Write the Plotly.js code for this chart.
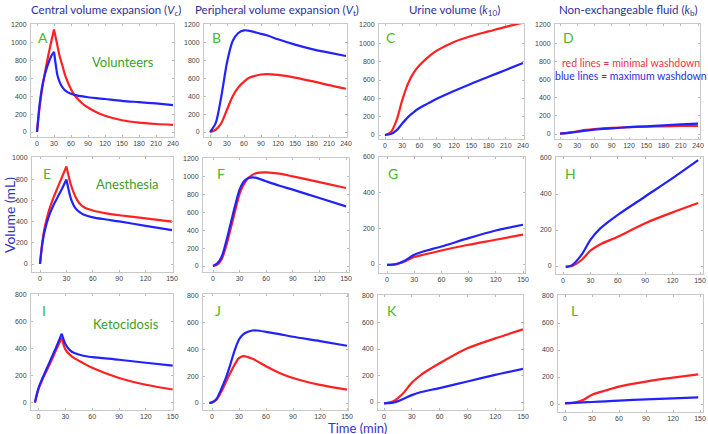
<!DOCTYPE html>
<html><head><meta charset="utf-8">
<script src="https://cdn.plot.ly/plotly-3.0.1.min.js"></script>
<style>html,body{margin:0;padding:0;background:#fff}#chart{width:708px;height:434px}</style>
</head><body><div id="chart"></div>
<script>
// ---------- DATA ----------
// Row 1: Volunteers (0-240 min)
const tA_red  = [0,5,10,15,20,25,30,35,40,45,50,60,65,70,80,90,105,120,150,180,210,240];
const A_red   = [0,300,520,700,860,1010,1150,1000,850,740,630,480,425,385,320,275,222,182,132,105,90,80];
const tA_blue = [0,5,10,15,20,25,30,33,36,40,45,50,60,70,90,120,150,180,210,240];
const A_blue  = [0,330,540,670,770,850,900,760,640,560,500,465,428,410,390,370,350,335,320,302];

const tB      = [0,10,20,30,40,50,60,70,90,100,120,150,180,210,240];
const B_blue  = [0,100,400,780,1020,1110,1140,1135,1100,1085,1040,980,930,890,852];
const B_red   = [0,25,100,250,400,500,565,610,645,650,640,610,570,525,485];

const tC      = [0,10,20,30,40,50,60,75,90,120,150,180,210,240];
const C_red   = [0,30,160,380,560,680,760,850,920,1015,1080,1130,1180,1225];
const C_blue  = [0,10,50,125,195,250,295,345,395,480,560,635,710,785];

const tD      = [0,15,30,45,60,90,120,150,180,210,240];
const D_red   = [5,15,30,45,55,68,75,80,85,88,90];
const D_blue  = [5,12,25,38,48,62,75,85,95,105,115];

// Row 2: Anesthesia (0-150 min)
const tE      = [0,2.5,5,10,15,20,25,30,32,35,40,45,50,60,75,90,120,150];
const E_red   = [0,200,330,500,620,720,820,920,850,750,640,570,535,505,478,460,430,400];
const E_blue  = [0,180,300,450,550,630,710,797,720,620,530,490,465,440,420,402,360,320];

const tF      = [0,5,10,15,20,25,30,35,40,45,50,60,75,90,120,150];
const F_blue  = [0,30,110,280,480,680,856,950,987,994,985,950,900,856,762,669];
const F_red   = [0,15,80,230,420,620,810,920,990,1025,1045,1050,1035,1005,940,875];

const tG      = [0,10,20,30,40,60,90,120,150];
const G_blue  = [-5,0,20,52,70,98,145,188,220];
const G_red   = [-5,-2,15,39,52,76,108,136,165];

const tH      = [3,10,20,30,40,60,90,120,148];
const H_blue  = [-5,5,60,145,205,284,386,488,588];
const H_red   = [-5,0,32,85,118,163,238,298,350];

// Row 3: Ketoacidosis (0-150 min)
const tI      = [-4,0,5,10,15,20,26,28,30,35,40,50,60,90,120,150];
const I_blue  = [0,107,190,265,340,415,512,470,435,390,368,348,338,318,296,274];
const I_red   = [0,100,180,250,320,395,482,430,395,355,330,293,258,182,132,97];

const tJ      = [-3,0,5,10,15,20,25,30,35,40,45,50,60,75,90,120,150];
const J_blue  = [0,5,30,100,180,280,390,475,515,532,542,542,532,515,495,463,428];
const J_red   = [0,3,25,80,150,220,285,335,350,343,330,313,275,225,187,135,100];

const tK      = [0,10,20,30,40,60,90,120,150];
const K_red   = [-10,5,60,145,205,292,405,480,548];
const K_blue  = [-10,-5,20,52,75,105,155,205,250];

const tL      = [0,10,20,30,45,60,90,120,148];
const L_red   = [5,10,30,68,100,129,166,195,220];
const L_blue  = [7,9,12,15,20,25,35,42,49];

const xTicks240 = [0,30,60,90,120,150,180,210,240];
const xTicks150 = [0,30,60,90,120,150];
const yTicks1200 = [0,200,400,600,800,1000,1200];
const yTicks1000 = [0,200,400,600,800,1000];
const yTicks600 = [0,200,400,600];
const yTicks800 = [0,200,400,600,800];

const colTitles = ['Central volume expansion (<i>V</i><sub>c</sub>)',
                   'Peripheral volume expansion (<i>V</i><sub>t</sub>)',
                   'Urine volume (<i>k</i><sub>10</sub>)',
                   'Non-exchangeable fluid (<i>k</i><sub>b</sub>)'];
const panelLetters = ['A','B','C','D','E','F','G','H','I','J','K','L'];
const groupNames = ['Volunteers','Anesthesia','Ketocidosis'];

// ---------- LAYOUT GEOMETRY ----------
const W = 708, H = 434;
const RED = '#ff2121', BLUE = '#2222ff';
const panels = [
 {box:[31,174,24,137], xa:[0,37,240,173],   ya:[0,132,1200,25],   xt:xTicks240, yt:yTicks1200, s:[[tA_red,A_red],[tA_blue,A_blue]], peak:true},
 {box:[204,347,24,137],xa:[0,210,240,346],  ya:[0,132,1200,25],   xt:xTicks240, yt:yTicks1200, s:[[tB,B_red],[tB,B_blue]]},
 {box:[379,524,24,139],xa:[0,385,240,523],  ya:[0,135,1200,25],   xt:xTicks240, yt:yTicks1200, s:[[tC,C_red],[tC,C_blue]]},
 {box:[555,700,24,139],xa:[0,560,240,698],  ya:[0,134,1200,25],   xt:xTicks240, yt:yTicks1200, s:[[tD,D_red],[tD,D_blue]]},
 {box:[32,173,157,272],xa:[0,40,150,172],   ya:[0,264,1000,158],  xt:xTicks150, yt:yTicks1000, s:[[tE,E_red],[tE,E_blue]], peak:true},
 {box:[203,349,158,272],xa:[0,213,150,346], ya:[0,266,1200,159],  xt:xTicks150, yt:yTicks1200, s:[[tF,F_red],[tF,F_blue]]},
 {box:[379,525,157,273],xa:[0,387,150,523], ya:[0,264,600,157],   xt:xTicks150, yt:yTicks600, s:[[tG,G_red],[tG,G_blue]]},
 {box:[556,703,157,274],xa:[0,563,150,700], ya:[0,266,600,158],   xt:xTicks150, yt:yTicks600, s:[[tH,H_red],[tH,H_blue]]},
 {box:[31,173,294,410],xa:[0,38.5,150,172.7],ya:[0,402.5,800,295],xt:xTicks150, yt:yTicks800, s:[[tI,I_red],[tI,I_blue]], peak:true},
 {box:[203,348,294,410],xa:[0,212,150,347], ya:[0,403,800,296],   xt:xTicks150, yt:yTicks800, s:[[tJ,J_red],[tJ,J_blue]]},
 {box:[378,523,295,410],xa:[0,384,150,523], ya:[0,402,800,296],   xt:xTicks150, yt:yTicks800, s:[[tK,K_red],[tK,K_blue]]},
 {box:[558,703,295,412],xa:[0,565,150,700], ya:[0,404,800,296],   xt:xTicks150, yt:yTicks800, s:[[tL,L_red],[tL,L_blue]]}
];

function rng(a, p0, p1){
  const k = (a[2]-a[0])/(a[3]-a[1]);
  return [a[0]+(p0-a[1])*k, a[0]+(p1-a[1])*k];
}

const traces = [];
const layout = {width:W, height:H, margin:{l:0,r:0,t:0,b:0}, showlegend:false,
  paper_bgcolor:'#fff', plot_bgcolor:'#fff', annotations:[]};

panels.forEach((p,i)=>{
  const n = i+1, xs = n===1?'x':'x'+n, ys = n===1?'y':'y'+n;
  const [l,r,t,b] = p.box;
  const axCommon = {showgrid:false, zeroline:false, showline:true, mirror:'ticks',
    linecolor:'#c8c8c8', linewidth:1, ticks:'inside', ticklen:2, tickcolor:'#bbb',
    tickfont:{family:'Liberation Sans, Arial, sans-serif', size:7, color:'#444'}, fixedrange:true};
  layout['xaxis'+(n===1?'':n)] = Object.assign({}, axCommon, {domain:[l/W, r/W], anchor:ys,
    range:rng(p.xa, l, r), tickvals:p.xt, ticktext:p.xt.map(String), ticklabelstandoff:0});
  layout['yaxis'+(n===1?'':n)] = Object.assign({}, axCommon, {domain:[1-b/H, 1-t/H], anchor:xs,
    range:rng(p.ya, b, t), tickvals:p.yt, ticktext:p.yt.map(String), ticklabelstandoff:2});
  p.s.forEach((ser,j)=>{
    const [tx, vy] = ser;
    const col = j===0?RED:BLUE;
    const segs = [];
    if (p.peak) {
      let k = 0; vy.forEach((v,q)=>{ if (v>vy[k]) k=q; });
      segs.push([tx.slice(0,k+1), vy.slice(0,k+1)]);
      segs.push([tx.slice(k), vy.slice(k)]);
    } else segs.push([tx, vy]);
    segs.forEach(sg=>traces.push({x:sg[0], y:sg[1], xaxis:xs, yaxis:ys, type:'scatter', mode:'lines',
      line:{color:col, width:2.2, shape:'spline', smoothing:0.8}, hoverinfo:'skip', cliponaxis:true}));
  });
});

// ---------- TEXT ----------
const A = layout.annotations;
function txt(text, x, y, size, color, extra){
  A.push(Object.assign({text:text, x:x/W, y:1-y/H, xref:'paper', yref:'paper', showarrow:false,
    xanchor:'center', yanchor:'middle', font:{family:'Lato, Open Sans, sans-serif', size:size, color:color}}, extra||{}));
}
const titleX = [29, 193, 407, 557];
colTitles.forEach((s,i)=>txt(s, titleX[i], 11, 11.5, '#2e3196', {xanchor:'left'}));
const letterPos = [[43,37],[217,37],[391,37],[568,37],[47,174],[221,174],[393,174],[570,174],[44,310],[218,310],[392,310],[574,310]];
panelLetters.forEach((s,i)=>txt(s, letterPos[i][0], letterPos[i][1], 14, '#4cb52f'));
const groupPos = [[123,62],[127,184],[126,324]];
groupNames.forEach((s,i)=>txt(s, groupPos[i][0], groupPos[i][1], 13, '#3d9e2a'));
txt('red lines = minimal washdown', 631, 63, 10.5, '#e8334a');
txt('blue lines = maximum washdown', 631, 76, 10.5, '#2d2dea');
txt('Volume (mL)', 9, 215, 14, '#3434c4', {textangle:-90});
txt('Time (min)', 357, 428, 13, '#3434c4');

Plotly.newPlot('chart', traces, layout, {displayModeBar:false, staticPlot:true});
</script></body></html>
